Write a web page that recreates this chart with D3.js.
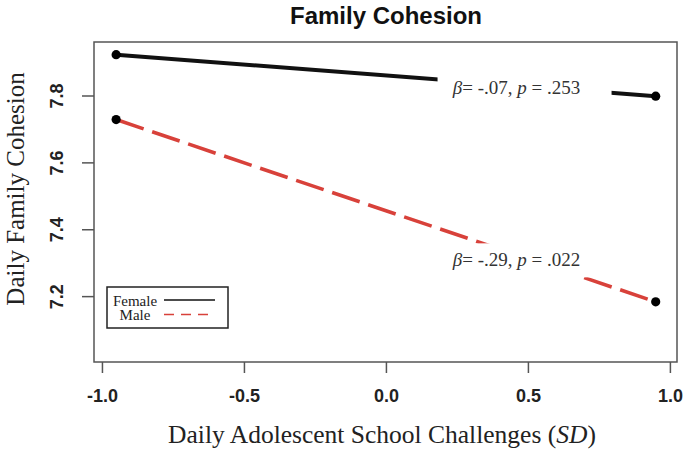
<!DOCTYPE html>
<html>
<head>
<meta charset="utf-8">
<script src="https://cdn.jsdelivr.net/npm/d3@7"></script>
<style>
  html, body { margin: 0; padding: 0; background: #fff; }
  svg { display: block; }
</style>
</head>
<body>
<svg id="chart" width="685" height="453"></svg>
<script>
// ---- data ----
const xValues = [-0.95, 0.95];
const seriesNames = ["Female", "Male"];
const femaleValues = [7.922, 7.798];
const maleValues = [7.728, 7.183];
const xTicks = [-1.0, -0.5, 0.0, 0.5, 1.0];
const yTicks = [7.2, 7.4, 7.6, 7.8];
const annotationX = [0.46, 0.46];
const annotationY = [7.822, 7.307];
const annotationBeta = ["-.07", "-.29"];
const annotationP = [".253", ".022"];
const titleText = "Family Cohesion";
const xLabelText = "Daily Adolescent School Challenges (";
const yLabelText = "Daily Family Cohesion";

// ---- layout ----
const svg = d3.select("#chart");
const box = { left: 94, right: 677, top: 42, bottom: 362 };
const x = d3.scaleLinear().domain([-1.028, 1.025]).range([box.left, box.right]);
const y = d3.scaleLinear().domain([7.0, 7.96]).range([363, box.top]);
const sans = "'Liberation Sans', Arial, sans-serif";
const serif = "'Liberation Serif', 'Times New Roman', serif";
const red = "#d8413a";

// title
svg.append("text")
  .attr("x", 386).attr("y", 24)
  .attr("text-anchor", "middle")
  .style("font-family", sans).style("font-weight", "bold").style("font-size", "24px")
  .attr("fill", "#111")
  .text(titleText);

// plot box
svg.append("rect")
  .attr("x", box.left).attr("y", box.top)
  .attr("width", box.right - box.left).attr("height", box.bottom - box.top)
  .attr("fill", "none").attr("stroke", "#555").attr("stroke-width", 1.5);

// x axis
const xAxis = d3.axisBottom(x).tickValues(xTicks).tickSize(11).tickSizeOuter(0)
  .tickFormat(d3.format(".1f"));
const gx = svg.append("g").attr("transform", `translate(0,${box.bottom})`).call(xAxis);
gx.select(".domain").remove();
gx.selectAll(".tick line").attr("stroke", "#555").attr("stroke-width", 1.5);
gx.selectAll(".tick text")
  .attr("y", 40).attr("dy", null)
  .style("font-family", sans).style("font-weight", "bold").style("font-size", "18px")
  .attr("fill", "#222")
  .text(d => d3.format(".1f")(d).replace("−", "-"));

// y axis
const yAxis = d3.axisLeft(y).tickValues(yTicks).tickSize(12).tickSizeOuter(0)
  .tickFormat(d3.format(".1f"));
const gy = svg.append("g").attr("transform", `translate(${box.left},0)`).call(yAxis);
gy.select(".domain").remove();
gy.selectAll(".tick line").attr("stroke", "#555").attr("stroke-width", 1.5);
gy.selectAll(".tick text")
  .attr("x", null).attr("dy", null)
  .attr("text-anchor", "middle")
  .attr("transform", "translate(-31,0) rotate(-90)")
  .style("font-family", sans).style("font-weight", "bold").style("font-size", "18px")
  .attr("fill", "#222");

// axis labels
const xl = svg.append("text")
  .attr("x", 382).attr("y", 443)
  .attr("text-anchor", "middle")
  .style("font-family", serif).style("font-size", "25.5px")
  .attr("fill", "#222");
xl.append("tspan").text(xLabelText);
xl.append("tspan").style("font-style", "italic").text("SD");
xl.append("tspan").text(")");

svg.append("text")
  .attr("transform", "translate(24,189) rotate(-90)")
  .attr("text-anchor", "middle")
  .style("font-family", serif).style("font-size", "25px")
  .attr("fill", "#222")
  .text(yLabelText);

// lines
const line = d3.line().x(d => x(d[0])).y(d => y(d[1]));
const femaleData = xValues.map((v, i) => [v, femaleValues[i]]);
const maleData = xValues.map((v, i) => [v, maleValues[i]]);

svg.append("path").datum(femaleData)
  .attr("d", line).attr("fill", "none")
  .attr("stroke", "#111").attr("stroke-width", 4);
svg.append("path").datum(maleData)
  .attr("d", line).attr("fill", "none")
  .attr("stroke", red).attr("stroke-width", 3.6)
  .attr("stroke-dasharray", "29,9");

// annotation masks and text
const annG = svg.append("g");
annotationX.forEach((ax, i) => {
  const cx = x(ax), cy = y(annotationY[i]);
  annG.append("rect")
    .attr("x", cx - 79).attr("y", cy - 17)
    .attr("width", 174).attr("height", 34)
    .attr("fill", "#fff");
  const t = annG.append("text")
    .attr("x", cx).attr("y", cy + 6)
    .attr("text-anchor", "middle")
    .style("font-family", serif).style("font-size", "19px")
    .attr("fill", "#333");
  t.append("tspan").style("font-style", "italic").text("β");
  t.append("tspan").text("= " + annotationBeta[i] + ", ");
  t.append("tspan").style("font-style", "italic").text("p");
  t.append("tspan").text(" = " + annotationP[i]);
});

// points
svg.append("g").selectAll("circle")
  .data(femaleData.concat(maleData))
  .join("circle")
  .attr("cx", d => x(d[0])).attr("cy", d => y(d[1]))
  .attr("r", 4.6).attr("fill", "#000");

// legend
const leg = svg.append("g");
leg.append("rect")
  .attr("x", 107).attr("y", 287).attr("width", 121).attr("height", 41)
  .attr("fill", "#fff").attr("stroke", "#222").attr("stroke-width", 1.5);
const legendStyles = [
  { color: "#111", dash: null },
  { color: red, dash: "10,7" }
];
seriesNames.forEach((name, i) => {
  const ly = 300 + i * 14.5;
  leg.append("text")
    .attr("x", 135).attr("y", ly + 5.5)
    .attr("text-anchor", "middle")
    .style("font-family", serif).style("font-size", "15px")
    .attr("fill", "#222")
    .text(name);
  leg.append("line")
    .attr("x1", 164).attr("x2", 215).attr("y1", ly).attr("y2", ly)
    .attr("stroke", legendStyles[i].color).attr("stroke-width", 1.6)
    .attr("stroke-dasharray", legendStyles[i].dash);
});
</script>
</body>
</html>
